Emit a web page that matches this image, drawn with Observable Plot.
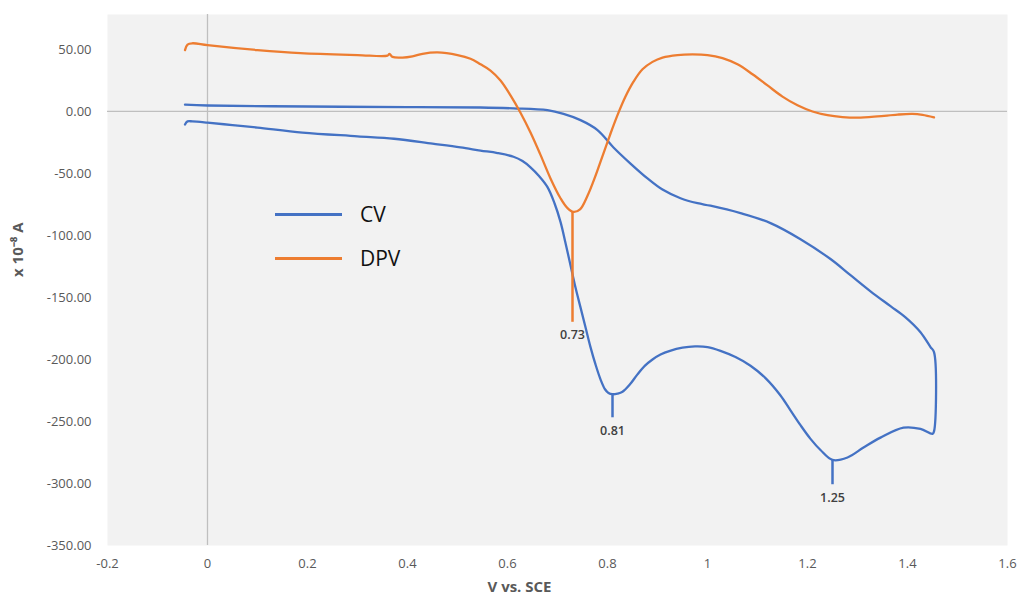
<!DOCTYPE html>
<html>
<head>
<meta charset="utf-8">
<script src="https://cdn.jsdelivr.net/npm/d3@7"></script>
<script src="https://cdn.jsdelivr.net/npm/@observablehq/plot@0.6"></script>
<style>
  html, body { margin: 0; padding: 0; background: #fff; }
  #wrap { position: relative; width: 1018px; height: 599px; font-family: "Open Sans", sans-serif; }
  .lg { position: absolute; left: 275px; display: flex; align-items: center; }
  .lg span.sw { display: inline-block; width: 67px; height: 3px; margin-right: 18px; }
  .lg span.tx { font-size: 21px; color: #111; line-height: 1; }
</style>
</head>
<body>
<div id="wrap"></div>
<script>
// ---- Data ----
// CV: forward (lower) branch, jump at switching potential, return (upper) branch
const cvV = [
  -0.045, -0.04, -0.03, 0.0, 0.05, 0.1, 0.19, 0.3, 0.373, 0.45, 0.506, 0.546, 0.58, 0.612, 0.63, 0.646,
  0.663, 0.68, 0.694, 0.706, 0.716, 0.726, 0.736, 0.746, 0.756, 0.766, 0.776, 0.786, 0.795, 0.802,
  0.81, 0.82, 0.83, 0.845, 0.86, 0.875, 0.89, 0.906, 0.925, 0.95, 0.975, 1.0, 1.026, 1.056, 1.086, 1.116,
  1.146, 1.166, 1.186, 1.206, 1.226, 1.25, 1.28, 1.312, 1.346, 1.392, 1.426, 1.45, 1.453, 1.453,
  1.446, 1.426, 1.396, 1.366, 1.326, 1.286, 1.246, 1.186, 1.126, 1.066, 1.006, 0.98, 0.946, 0.91,
  0.88, 0.846, 0.812, 0.78, 0.746, 0.712, 0.68, 0.612, 0.546, 0.4, 0.2, 0.0, -0.045
];
const cvI = [
  -10.5, -8, -8, -9, -11, -13, -17, -20, -22, -26, -29, -31.5, -33.5, -36.5, -40, -45,
  -52, -61, -74, -89, -106, -124, -142, -158, -174, -190, -204, -216, -224, -227,
  -228, -227.5, -226, -220, -212, -205, -200, -196, -193, -190.5, -189.5, -190, -193, -198, -205, -215,
  -229, -241, -253, -264, -273, -281, -279, -271, -263, -255, -256, -260, -258, -194,
  -190, -178, -166, -157, -145, -132, -119, -103, -90, -82, -76, -74, -70, -63,
  -54, -42, -29, -15, -7, -2, 1, 2.5, 3.2, 3.5, 4, 4.8, 5.5
];
// DPV
const dpvV = [
  -0.045, -0.04, -0.03, 0.0, 0.1, 0.186, 0.3, 0.36, 0.364, 0.37, 0.39, 0.41, 0.43, 0.46, 0.5,
  0.526, 0.546, 0.566, 0.586, 0.606, 0.626, 0.646, 0.666, 0.686, 0.706, 0.72, 0.732, 0.745, 0.76,
  0.775, 0.79, 0.805, 0.82, 0.836, 0.852, 0.87, 0.89, 0.91, 0.94, 0.97, 1.0, 1.03, 1.06, 1.09,
  1.12, 1.15, 1.18, 1.21, 1.24, 1.27, 1.3, 1.34, 1.38, 1.41, 1.43, 1.453
];
const dpvI = [
  49.5, 54, 55, 53.5, 49.5, 47, 45.5, 45, 46.5, 44, 43.5, 44.5, 46.5, 47.6, 45.5,
  42.5, 38, 33, 25, 13, -1, -17, -35, -54, -70, -78, -81, -79, -68,
  -53, -36, -19, -3, 12, 24, 34, 40, 43.5, 45.5, 46, 45.5, 43, 38, 30,
  21, 12, 5, 0, -3, -4.5, -5, -4, -2.5, -2, -2.8, -4.8
];
// Peak markers
const peakV = [0.73, 0.81, 1.25];
const peakTop = [-81, -228, -281];
const peakBottom = [-170, -247, -301];
const peakLabel = ["0.73", "0.81", "1.25"];
const peakSeries = ["DPV", "CV", "CV"];
// Axis ticks
const xTicks = [-0.2, 0, 0.2, 0.4, 0.6, 0.8, 1, 1.2, 1.4, 1.6];
const yTicks = [-350, -300, -250, -200, -150, -100, -50, 0, 50];

const colors = { CV: "#4472C4", DPV: "#ED7D31" };

const cv = cvV.map((v, i) => ({ v, i: cvI[i] }));
const dpv = dpvV.map((v, i) => ({ v, i: dpvI[i] }));
const peaks = peakV.map((v, k) => ({ v, top: peakTop[k], bottom: peakBottom[k], label: peakLabel[k], s: peakSeries[k] }));

const chart = Plot.plot({
  width: 1018,
  height: 599,
  marginLeft: 107,
  marginRight: 11,
  marginTop: 14,
  marginBottom: 54,
  style: { fontFamily: "'Open Sans', sans-serif", background: "#fff", overflow: "visible" },
  x: { domain: [-0.2, 1.6] },
  y: { domain: [-350, 78.2] },
  marks: [
    Plot.frame({ fill: "#f2f2f2", stroke: null }),
    Plot.ruleX([0], { stroke: "#bfbfbf", strokeWidth: 1.3 }),
    Plot.ruleY([0], { stroke: "#bfbfbf", strokeWidth: 1.3 }),
    Plot.axisX(xTicks, {
      tickSize: 0, tickPadding: 13, fontSize: 13, fill: "#595959", label: null,
      tickFormat: d => String(+d.toFixed(1))
    }),
    Plot.axisY(yTicks, {
      tickSize: 0, tickPadding: 16, fontSize: 13, fill: "#595959", label: null,
      tickFormat: d => d.toFixed(2)
    }),
    Plot.text(["V vs. SCE"], { frameAnchor: "bottom", dx: -38, dy: 46, fontSize: 15, fontWeight: "bold", fill: "#595959" }),
    Plot.text(["x 10⁻⁸ A"], { frameAnchor: "left", rotate: -90, dx: -89, dy: -3, fontSize: 15, fontWeight: "bold", fill: "#595959" }),
    Plot.line(cv, { x: "v", y: "i", stroke: colors.CV, strokeWidth: 2.3, curve: "catmull-rom" }),
    Plot.line(dpv, { x: "v", y: "i", stroke: colors.DPV, strokeWidth: 2.3, curve: "catmull-rom" }),
    Plot.ruleX(peaks, { x: "v", y1: "top", y2: "bottom", stroke: d => colors[d.s], strokeWidth: 2.5 }),
    Plot.text(peaks, { x: "v", y: "bottom", text: "label", dy: 13, fontSize: 12.5, fontWeight: 600, fill: "#404040" })
  ]
});

const wrap = document.getElementById("wrap");
wrap.appendChild(chart);
[["CV", 214], ["DPV", 258]].forEach(([name, top]) => {
  const d = document.createElement("div");
  d.className = "lg";
  d.style.top = (top - 12) + "px";
  d.style.height = "24px";
  d.innerHTML = `<span class="sw" style="background:${colors[name]}"></span><span class="tx">${name}</span>`;
  wrap.appendChild(d);
});
</script>
</body>
</html>
